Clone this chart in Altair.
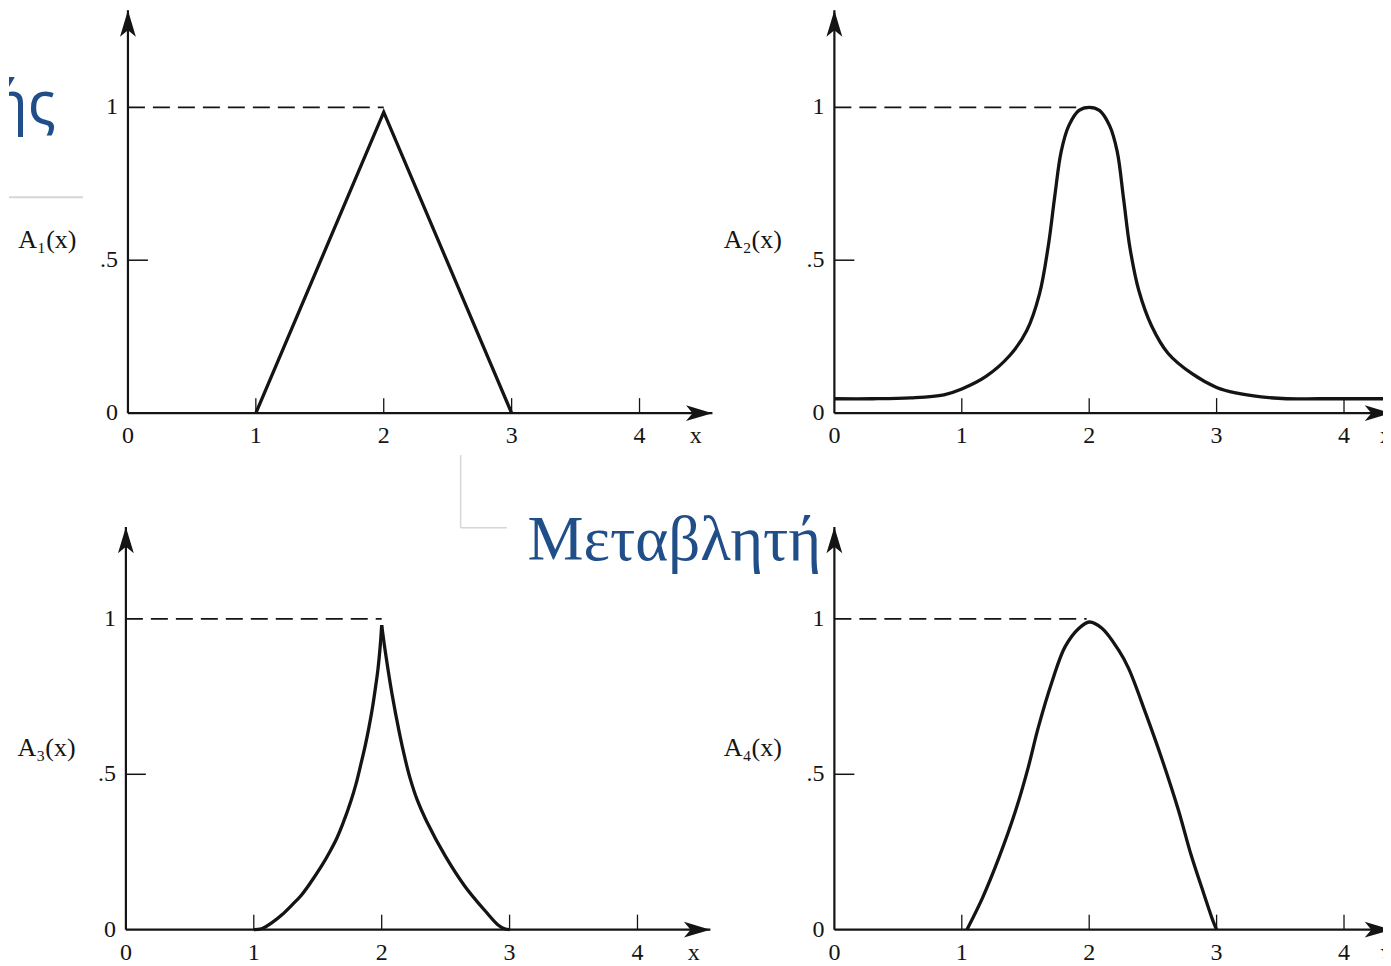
import altair as alt
import pandas as pd

# ---------------- chart values ----------------
X_TICKS = [1, 2, 3, 4]
X_LABEL_POS = [0, 1, 2, 3, 4]
X_LABELS = ["0", "1", "2", "3", "4"]
Y_LABEL_POS = [0.0, 0.5, 1.0]
Y_LABELS = ["0", ".5", "1"]
TITLES = ["A\u2081(x)", "A\u2082(x)", "A\u2083(x)", "A\u2084(x)"]
PEAK_X = [2.0, 1.97, 2.0, 1.98]

# A1: triangular
A1_x = [1.0, 2.0, 3.0]
A1_y = [0.0, 0.984, 0.0]

# A2: bell shaped on a small baseline
A2_x = [0.0, 0.3, 0.6, 0.86, 1.0, 1.19, 1.38, 1.51, 1.61, 1.68, 1.73, 1.78, 1.84,
        1.92, 2.0, 2.08, 2.16, 2.22, 2.27, 2.32, 2.39, 2.49, 2.62, 2.81, 3.0,
        3.15, 3.35, 3.55, 3.8, 4.1, 4.4]
A2_y = [0.047, 0.047, 0.05, 0.06, 0.079, 0.12, 0.19, 0.27, 0.39, 0.55, 0.71, 0.855,
        0.94, 0.99, 1.0, 0.99, 0.94, 0.855, 0.70, 0.54, 0.40, 0.285, 0.195, 0.128,
        0.084, 0.066, 0.053, 0.047, 0.047, 0.047, 0.047]

# A3: cusp (left branch / right branch)
A3_left_x = [1.0, 1.06, 1.15, 1.22, 1.3, 1.37, 1.45, 1.53, 1.6, 1.65, 1.7, 1.76, 1.8,
             1.83, 1.87, 1.9, 1.93, 1.95, 1.97, 1.99, 2.0]
A3_left_y = [0.0, 0.003, 0.025, 0.048, 0.08, 0.11, 0.155, 0.205, 0.255, 0.295, 0.345,
             0.415, 0.47, 0.52, 0.59, 0.65, 0.72, 0.775, 0.835, 0.92, 0.98]
A3_right_x = [2.0, 2.03, 2.08, 2.14, 2.18, 2.22, 2.28, 2.35, 2.5, 2.65, 2.81, 2.91,
              2.96, 3.0]
A3_right_y = [0.98, 0.89, 0.76, 0.63, 0.555, 0.49, 0.415, 0.35, 0.235, 0.14, 0.06,
              0.015, 0.003, 0.0]

# A4: rounded hump
A4_x = [1.04, 1.16, 1.29, 1.42, 1.52, 1.6, 1.71, 1.81, 1.92, 2.0, 2.1, 2.23, 2.31,
        2.44, 2.57, 2.7, 2.8, 2.9, 2.97, 3.0]
A4_y = [0.0, 0.10, 0.23, 0.38, 0.52, 0.65, 0.80, 0.91, 0.97, 0.99, 0.97, 0.90, 0.84,
        0.70, 0.55, 0.385, 0.24, 0.115, 0.03, 0.0]

OVERLAY_TOP = "συμμετοχής"
OVERLAY_MID = "Μεταβλητή"

# ---------------- styling ----------------
INK = "#141414"
BLUE = "#1f4e89"
GREY = "#d6d6d6"
SERIF = "Liberation Serif"
ARROW = "M0,0 L0.6,2 L0,1.5 L-0.6,2 Z"

LEFT_W, RIGHT_W = 712, 663
TOP_H, BOT_H = 462, 488
XDOM_L = [-0.93, 4.633]
XDOM_L3 = [-0.914, 4.649]
XDOM_R = [-0.894, 4.306]
YDOM_T = [-0.186, 1.3235]
YDOM_B = [-0.09, 1.479]


def panel(curve_df, interp, title, title_xy, peak_x, xdom, ydom, w, h, x_tip, y_tip,
          xname_x, xname_clip, extras=()):
    def X(f):
        return alt.X(f, type="quantitative", axis=None,
                     scale=alt.Scale(domain=xdom, nice=False, zero=False))

    def Y(f):
        return alt.Y(f, type="quantitative", axis=None,
                     scale=alt.Scale(domain=ydom, nice=False, zero=False))

    yunit = h / (ydom[1] - ydom[0])
    xunit = w / (xdom[1] - xdom[0])

    axes_df = pd.DataFrame({"x": [0.0, 0.0], "y": [0.0, 0.0],
                            "x2": [0.0, x_tip], "y2": [y_tip, 0.0]})
    axes = alt.Chart(axes_df).mark_rule(color=INK, strokeWidth=2.2, clip=True).encode(
        X("x"), Y("y"), x2="x2", y2="y2")

    arr_df = pd.DataFrame({"x": [0.0, x_tip], "y": [y_tip, 0.0], "ang": [0, 90]})
    arrows = alt.Chart(arr_df).mark_point(
        shape=ARROW, filled=True, size=700, color=INK, opacity=1, clip=True
    ).encode(X("x"), Y("y"), angle=alt.Angle("ang:Q", scale=None))

    xt_df = pd.DataFrame({"x": X_TICKS, "y": [0.0] * len(X_TICKS),
                          "y2": [15.0 / yunit] * len(X_TICKS)})
    xticks = alt.Chart(xt_df).mark_rule(color=INK, strokeWidth=1.3).encode(
        X("x"), Y("y"), y2="y2")

    yt_df = pd.DataFrame({"x": [0.0], "x2": [20.0 / xunit], "y": [0.5]})
    yticks = alt.Chart(yt_df).mark_rule(color=INK, strokeWidth=1.5).encode(
        X("x"), Y("y"), x2="x2")

    dash_df = pd.DataFrame({"x": [0.0], "x2": [peak_x], "y": [1.0]})
    dash = alt.Chart(dash_df).mark_rule(
        color=INK, strokeWidth=1.8, strokeDash=[17, 8]).encode(X("x"), Y("y"), x2="x2")

    curve = alt.Chart(curve_df).mark_line(
        color=INK, strokeWidth=3.3, interpolate=interp, clip=True
    ).encode(X("x"), Y("y"), detail="part:N", order="i:Q")

    yl_df = pd.DataFrame({"x": [0.0] * 3, "y": Y_LABEL_POS, "t": Y_LABELS})
    ylabels = alt.Chart(yl_df).mark_text(
        align="right", baseline="middle", dx=-10, font=SERIF, fontSize=24, color=INK
    ).encode(X("x"), Y("y"), text="t:N")

    xl_df = pd.DataFrame({"x": X_LABEL_POS, "y": [0.0] * 5, "t": X_LABELS})
    xlabels = alt.Chart(xl_df).mark_text(
        align="center", baseline="middle", dy=23, font=SERIF, fontSize=24, color=INK
    ).encode(X("x"), Y("y"), text="t:N")

    xname_df = pd.DataFrame({"x": [xname_x], "y": [0.0], "t": ["x"]})
    xname = alt.Chart(xname_df).mark_text(
        align="center", baseline="middle", dy=23, font=SERIF, fontSize=24, color=INK,
        clip=xname_clip
    ).encode(X("x"), Y("y"), text="t:N")

    title_df = pd.DataFrame({"x": [title_xy[0]], "y": [title_xy[1]], "t": [title]})
    ttl = alt.Chart(title_df).mark_text(
        align="center", baseline="middle", font=SERIF, fontSize=26, color=INK
    ).encode(X("x"), Y("y"), text="t:N")

    layers = [axes, arrows, xticks, yticks, dash, curve, ylabels, xlabels, xname, ttl]
    for ex in extras:
        layers.append(ex(X, Y))
    return alt.layer(*layers).properties(width=w, height=h)


def curve_frame(xs, ys, part="a"):
    return pd.DataFrame({"x": xs, "y": ys, "part": [part] * len(xs),
                         "i": list(range(len(xs)))})


# overlay decorations
def top_overlay(X, Y):
    txt = alt.Chart(pd.DataFrame({"x": [-0.5625], "y": [0.948], "t": [OVERLAY_TOP]})).mark_text(
        align="right", baseline="alphabetic", font="Noto Sans", fontSize=58,
        color=BLUE, clip=True
    ).encode(X("x"), Y("y"), text="t:N")
    line = alt.Chart(pd.DataFrame({"x": [-0.93], "x2": [-0.352], "y": [0.706]})).mark_rule(
        color=GREY, strokeWidth=2
    ).encode(X("x"), Y("y"), x2="x2")
    return alt.layer(txt, line)


def mid_overlay(X, Y):
    txt = alt.Chart(pd.DataFrame({"x": [3.14], "y": [1.19], "t": [OVERLAY_MID]})).mark_text(
        align="left", baseline="alphabetic", font=SERIF, fontSize=63, color=BLUE
    ).encode(X("x"), Y("y"), text="t:N")
    lines = alt.Chart(pd.DataFrame({"x": [2.617, 2.617], "y": [1.527, 1.293],
                                    "x2": [2.617, 2.98], "y2": [1.293, 1.293]})).mark_rule(
        color=GREY, strokeWidth=1.5
    ).encode(X("x"), Y("y"), x2="x2", y2="y2")
    return alt.layer(lines, txt)


c1 = curve_frame(A1_x, A1_y)
c2 = curve_frame(A2_x, A2_y)
c3 = pd.concat([curve_frame(A3_left_x, A3_left_y, "l"),
                curve_frame(A3_right_x, A3_right_y, "r")], ignore_index=True)
c4 = curve_frame(A4_x, A4_y)

p1 = panel(c1, "linear", TITLES[0], (-0.63, 0.565), PEAK_X[0], XDOM_L, YDOM_T,
           LEFT_W, TOP_H, 4.57, 1.317, 4.44, False, extras=(top_overlay,))
p2 = panel(c2, "catmull-rom", TITLES[1], (-0.64, 0.565), PEAK_X[1], XDOM_R, YDOM_T,
           RIGHT_W, TOP_H, 4.37, 1.317, 4.33, True)
p3 = panel(c3, "catmull-rom", TITLES[2], (-0.62, 0.585), PEAK_X[2], XDOM_L3, YDOM_B,
           LEFT_W, BOT_H, 4.57, 1.296, 4.44, False, extras=(mid_overlay,))
p4 = panel(c4, "catmull-rom", TITLES[3], (-0.64, 0.585), PEAK_X[3], XDOM_R, YDOM_B,
           RIGHT_W, BOT_H, 4.37, 1.296, 4.33, True)

chart = alt.concat(p1, p2, p3, p4, columns=2, spacing=0, bounds="flush",
                   align="each").properties(
    padding=0, background="white"
).configure_view(strokeWidth=0)

chart.save("out.html", embed_options={"renderer": "svg", "actions": False})
